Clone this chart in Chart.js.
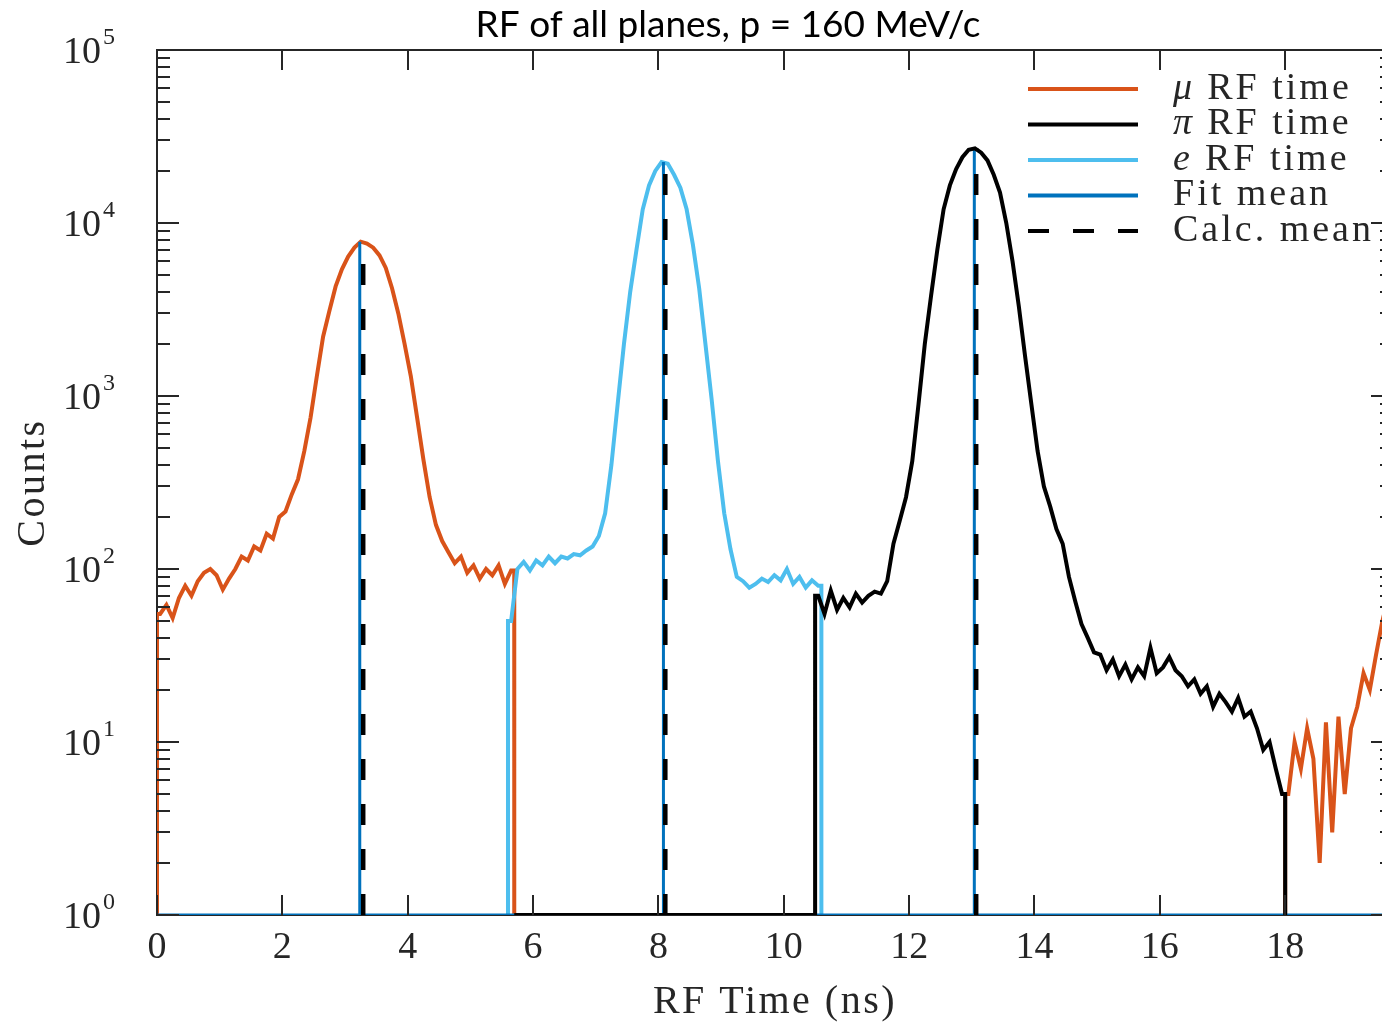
<!DOCTYPE html>
<html>
<head>
<meta charset="utf-8">
<title>RF of all planes, p = 160 MeV/c</title>
<script src="https://cdn.jsdelivr.net/npm/chart.js@4.4.1/dist/chart.umd.min.js"></script>
<style>
  html, body { margin: 0; padding: 0; background: #fff; overflow: hidden; }
  #wrap { width: 1400px; height: 1026px; }
</style>
</head>
<body>
<div id="wrap"><canvas id="rfChart" width="1400" height="1026"></canvas></div>
<script>
// RF time histograms for all planes, p = 160 MeV/c

const BIN_WIDTH = 0.1;   // ns
const FLOOR = 1;         // empty bins sit on the bottom of the log axis

// mu RF time, first peak (bins start at 0.0 ns)
const muStart = 0.0;
const muCounts = [55, 62, 52, 68, 80, 70, 85, 95, 100, 92,
                  76, 88, 100, 118, 112, 135, 128, 160, 150, 200,
                  215, 270, 330, 480, 750, 1300, 2200, 3100, 4300, 5400,
                  6400, 7200, 7800, 7600, 7200, 6500, 5500, 4200, 3000, 2000,
                  1300, 750, 430, 260, 180, 145, 125, 108, 118, 95,
                  105, 88, 100, 92, 105, 82, 98];

// mu RF time, next bunch (bins start at 18.0 ns)
const muTailStart = 18.0;
const muTailCounts = [5, 10, 7, 12, 8, 2, 13, 3, 14, 5, 12, 16, 25, 20, 32, 50, 70];

// e RF time (bins start at 5.6 ns)
const eStart = 5.6;
const eCounts = [50, 100, 110, 98, 112, 105, 118, 108, 118, 115,
                 122, 120, 128, 135, 155, 210, 400, 900, 2000, 4000,
                 7000, 12000, 16500, 20000, 22500, 22000, 19000, 16000, 12000, 7500,
                 4200, 2000, 950, 420, 210, 130, 90, 85, 78, 82,
                 88, 84, 92, 86, 100, 82, 90, 78, 86, 80];

// pi RF time (empty from 5.7 ns, bins start at 10.5 ns)
const piEmptyFrom = 5.7;
const piStart = 10.5;
const piCounts = [70, 55, 75, 58, 68, 60, 72, 64, 70, 74,
                  72, 85, 140, 190, 260, 420, 900, 2000, 3800, 7000,
                  12000, 16500, 20500, 24000, 26500, 27000, 25500, 23000, 19000, 15000,
                  10000, 6000, 3300, 1700, 900, 480, 300, 230, 170, 140,
                  90, 65, 48, 40, 33, 32, 26, 30, 24, 28,
                  23, 27, 24, 35, 25, 27, 31, 26, 24, 21,
                  23, 19, 21, 16, 19, 17, 15, 18, 14, 15,
                  12, 9, 10, 7, 5];

// peak means (mu, e, pi) and the height their markers reach
const fitMeans = [3.235, 8.08, 13.04];
const calcMeans = [3.29, 8.11, 13.07];
const meanTops = [7800, 22500, 27000];

const xTickStep = 2;
const X_MAX = 19.72;

const SERIF = '"Liberation Serif", "DejaVu Serif", serif';
const INK = '#262626';

const chartColors = {
    mu: '#D95319',
    pi: '#000000',
    e: '#4DBEEE',
    fit: '#0072BD',
    calc: '#000000'
};

// bin counts -> points at bin centres, closed down to the floor at both edges
function histPoints(start, counts) {
    const n = counts.length;
    const end = +(start + n * BIN_WIDTH).toFixed(2);
    const pts = [{ x: start, y: FLOOR }, { x: start, y: counts[0] }];
    counts.forEach((c, i) => pts.push({ x: +(start + (i + 0.5) * BIN_WIDTH).toFixed(3), y: c }));
    pts.push({ x: end, y: counts[n - 1] }, { x: end, y: FLOOR });
    return pts;
}

function fitLinePoints() {
    const pts = [{ x: 0, y: FLOOR }];
    fitMeans.forEach((m, i) => {
        pts.push({ x: m, y: FLOOR }, { x: m, y: meanTops[i] }, { x: m, y: FLOOR });
    });
    pts.push({ x: X_MAX, y: FLOOR });
    return pts;
}

function calcLinePoints() {
    const pts = [];
    calcMeans.forEach((m, i) => {
        if (i > 0) pts.push({ x: m, y: null });
        pts.push({ x: m, y: FLOOR }, { x: m, y: meanTops[i] });
    });
    return pts;
}

const muPoints = histPoints(muStart, muCounts)
    .concat([{ x: muTailStart, y: null }])
    .concat(histPoints(muTailStart, muTailCounts));
const piPoints = [{ x: piEmptyFrom, y: FLOOR }].concat(histPoints(piStart, piCounts));

// ---- plugins ----

const textLayer = {
    id: 'textLayer',
    afterDraw(chart, args, opts) {
        const { ctx, chartArea: a } = chart;
        ctx.save();
        ctx.fillStyle = '#000';
        ctx.textAlign = 'center';
        ctx.textBaseline = 'middle';
        ctx.font = opts.titleSize + 'px Lato, "Open Sans", sans-serif';
        ctx.fillText(opts.title, opts.titleX, opts.titleY);

        ctx.fillStyle = INK;
        ctx.font = opts.axisSize + 'px ' + SERIF;
        ctx.letterSpacing = opts.spacing + 'px';
        ctx.fillText(opts.xTitle, (a.left + a.right) / 2, opts.xTitleY);
        ctx.translate(opts.yTitleX, (a.top + a.bottom) / 2);
        ctx.rotate(-Math.PI / 2);
        ctx.fillText(opts.yTitle, 0, 0);
        ctx.restore();
    }
};

// box, inward ticks and 10^n labels
const frameTicks = {
    id: 'frameTicks',
    afterDraw(chart) {
        const { ctx, chartArea: a, scales: { x, y } } = chart;
        ctx.save();
        ctx.strokeStyle = INK;
        ctx.lineWidth = 2;
        ctx.beginPath();
        ctx.moveTo(a.left, a.top);
        ctx.lineTo(a.right, a.top);
        ctx.lineTo(a.right, a.bottom);
        x.ticks.forEach(t => {
            const px = Math.round(x.getPixelForValue(t.value));
            ctx.moveTo(px, a.bottom); ctx.lineTo(px, a.bottom - 20);
            ctx.moveTo(px, a.top); ctx.lineTo(px, a.top + 20);
        });
        const lo = Math.round(Math.log10(y.min));
        const hi = Math.round(Math.log10(y.max));
        for (let d = lo; d <= hi; d++) {
            for (let m = 1; m <= 9; m++) {
                const v = m * Math.pow(10, d);
                if (v > y.max) break;
                const py = Math.round(y.getPixelForValue(v));
                const len = m === 1 ? 22 : 13;
                ctx.moveTo(a.left, py); ctx.lineTo(a.left + len, py);
                ctx.moveTo(a.right, py); ctx.lineTo(a.right - len, py);
            }
        }
        ctx.stroke();

        ctx.fillStyle = INK;
        ctx.textBaseline = 'alphabetic';
        for (let d = lo; d <= hi; d++) {
            const py = y.getPixelForValue(Math.pow(10, d));
            ctx.font = '38px ' + SERIF;
            ctx.textAlign = 'right';
            ctx.fillText('10', 101, py + 13);
            ctx.font = '24px ' + SERIF;
            ctx.textAlign = 'left';
            ctx.fillText(String(d), 103, py - 6);
        }
        ctx.restore();
    }
};

const insideLegend = {
    id: 'insideLegend',
    afterDraw(chart, args, opts) {
        const { ctx } = chart;
        ctx.save();
        chart.data.datasets.forEach((ds, i) => {
            const yy = opts.top + i * opts.rowGap;
            ctx.beginPath();
            ctx.strokeStyle = ds.borderColor;
            ctx.lineWidth = 4;
            ctx.setLineDash(ds.borderDash || []);
            ctx.moveTo(opts.left, yy);
            ctx.lineTo(opts.left + opts.lineLength, yy);
            ctx.stroke();
            ctx.setLineDash([]);

            ctx.fillStyle = INK;
            ctx.textBaseline = 'middle';
            ctx.textAlign = 'left';
            ctx.letterSpacing = opts.spacing + 'px';
            let tx = opts.textLeft;
            let text = ds.label;
            if (ds.italicLead) {
                const parts = ds.label.split(' ');
                ctx.font = 'italic ' + opts.size + 'px ' + SERIF;
                ctx.fillText(parts[0], tx, yy);
                tx += ctx.measureText(parts[0]).width + opts.size * 0.32;
                text = parts.slice(1).join(' ');
            }
            ctx.font = opts.size + 'px ' + SERIF;
            ctx.fillText(text, tx, yy);
        });
        ctx.restore();
    }
};

const ctx = document.getElementById('rfChart').getContext('2d');

new Chart(ctx, {
    type: 'line',
    data: {
        datasets: [{
            label: 'μ RF time',
            italicLead: true,
            data: muPoints,
            borderColor: chartColors.mu,
            borderWidth: 4,
            order: 4
        }, {
            label: 'π RF time',
            italicLead: true,
            data: piPoints,
            borderColor: chartColors.pi,
            borderWidth: 4,
            order: 1
        }, {
            label: 'e RF time',
            italicLead: true,
            data: histPoints(eStart, eCounts),
            borderColor: chartColors.e,
            borderWidth: 4,
            order: 3
        }, {
            label: 'Fit mean',
            data: fitLinePoints(),
            borderColor: chartColors.fit,
            borderWidth: 3,
            order: 2
        }, {
            label: 'Calc. mean',
            data: calcLinePoints(),
            borderColor: chartColors.calc,
            borderWidth: 4.5,
            borderDash: [21, 24],
            order: 0
        }]
    },
    options: {
        responsive: false,
        animation: false,
        devicePixelRatio: 1,
        spanGaps: false,
        layout: { padding: { top: 50, right: 7, left: 0, bottom: 0 } },
        elements: { point: { radius: 0 }, line: { tension: 0, fill: false } },
        plugins: {
            legend: { display: false },
            tooltip: { enabled: false },
            title: { display: false },
            textLayer: {
                title: 'RF of all planes, p = 160 MeV/c', titleX: 728, titleY: 25, titleSize: 37,
                xTitle: 'RF Time (ns)', xTitleY: 1002,
                yTitle: 'Counts', yTitleX: 33,
                axisSize: 40, spacing: 2.5
            },
            insideLegend: { left: 1028, top: 89, rowGap: 35.5, lineLength: 110, textLeft: 1173, size: 38, spacing: 3 }
        },
        scales: {
            x: {
                type: 'linear',
                min: 0,
                max: X_MAX,
                grid: { display: false, drawTicks: false },
                border: { display: true, color: INK, width: 2 },
                ticks: {
                    stepSize: xTickStep,
                    includeBounds: false,
                    autoSkip: false,
                    maxRotation: 0,
                    padding: 10,
                    color: INK,
                    font: { family: SERIF, size: 38 }
                },
                afterFit(scale) { scale.height = 111; }
            },
            y: {
                type: 'logarithmic',
                min: 1,
                max: 100000,
                grid: { display: false, drawTicks: false },
                border: { display: true, color: INK, width: 2 },
                ticks: { display: false },
                afterFit(scale) { scale.width = 157; }
            }
        }
    },
    plugins: [textLayer, frameTicks, insideLegend]
});
</script>
</body>
</html>
